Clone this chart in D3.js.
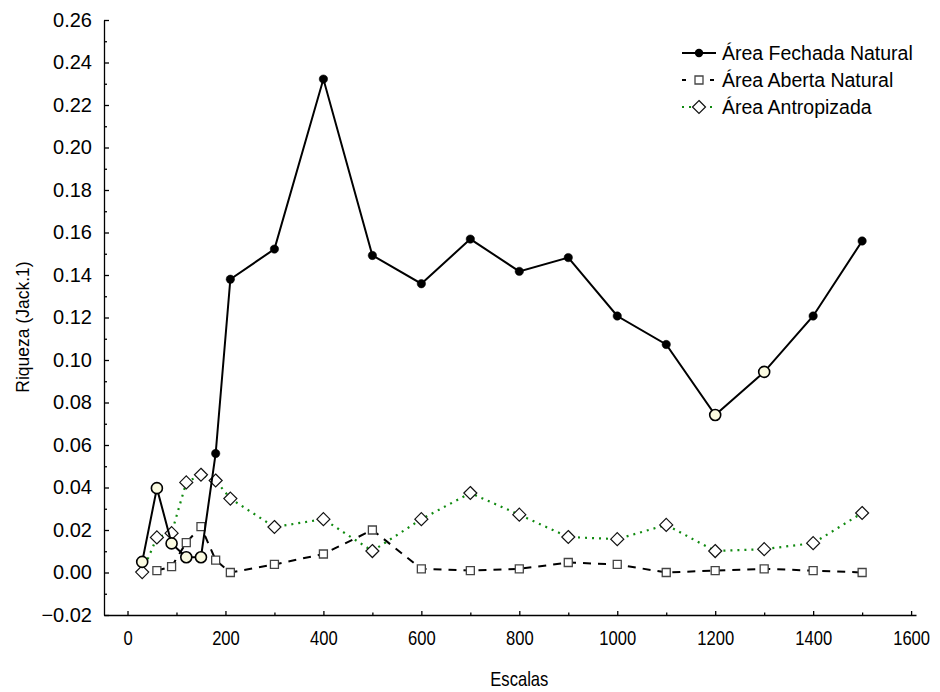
<!DOCTYPE html>
<html>
<head>
<meta charset="utf-8">
<script src="https://cdn.jsdelivr.net/npm/d3@7/dist/d3.min.js"></script>
<style>
  html, body { margin: 0; padding: 0; background: #fff; }
  svg { display: block; }
  .ylab text { font-family: "Liberation Sans", Arial, sans-serif; font-size: 20px; fill: #000; }
  .xlab text { font-family: "Liberation Sans", Arial, sans-serif; font-size: 20px; fill: #000; }
  .axis path, .axis line { stroke: #000; stroke-width: 1.3; }
</style>
</head>
<body>
<svg id="chart" width="940" height="692"></svg>
<script>
// Scales (x) at which richness was estimated
const escalas = [30, 60, 90, 120, 150, 180, 210, 300, 400, 500, 600, 700, 800, 900, 1000, 1100, 1200, 1300, 1400, 1500];

// Área Fechada Natural
const fechada = [0.005, 0.0397, 0.0137, 0.0072, 0.0072, 0.056, 0.138, 0.1522, 0.2322, 0.1492, 0.1359, 0.1569, 0.1417, 0.1482, 0.1207, 0.1073, 0.0741, 0.0944, 0.1207, 0.156];
// scales whose Fechada point is highlighted
const fechadaDestaque = [30, 60, 90, 120, 150, 1200, 1300];

// Área Aberta Natural (no value at scale 30)
const abertaEscalas = [60, 90, 120, 150, 180, 210, 300, 400, 500, 600, 700, 800, 900, 1000, 1100, 1200, 1300, 1400, 1500];
const aberta = [0.0009, 0.0028, 0.0141, 0.0216, 0.0058, 0.0, 0.0038, 0.0087, 0.02, 0.0017, 0.0009, 0.0017, 0.0047, 0.0038, 0.0, 0.0009, 0.0017, 0.0009, 0.0];

// Área Antropizada
const antropizada = [0.0002, 0.0165, 0.0185, 0.0424, 0.046, 0.0433, 0.0348, 0.0214, 0.0251, 0.0101, 0.0251, 0.0374, 0.0272, 0.0167, 0.0157, 0.0224, 0.0101, 0.011, 0.0138, 0.028];

// Axis ticks
const xTicks = [0, 200, 400, 600, 800, 1000, 1200, 1400, 1600];
const xMinor = [100, 300, 500, 700, 900, 1100, 1300, 1500];
const yTicks = [-0.02, 0.00, 0.02, 0.04, 0.06, 0.08, 0.10, 0.12, 0.14, 0.16, 0.18, 0.20, 0.22, 0.24, 0.26];
const yMinor = [-0.01, 0.01, 0.03, 0.05, 0.07, 0.09, 0.11, 0.13, 0.15, 0.17, 0.19, 0.21, 0.23, 0.25];

const legendNames = ["Área Fechada Natural", "Área Aberta Natural", "Área Antropizada"];

const svg = d3.select("#chart");
const font = "\"Liberation Sans\", Arial, sans-serif";
const narrow = 0.83; // horizontal squeeze of the x-axis lettering

const x = d3.scaleLinear().domain([-48, 1610]).range([104, 916]);
const y = d3.scaleLinear().domain([-0.02, 0.26]).range([615, 20]);

// ---- axes ----
const yAxis = d3.axisLeft(y).tickValues(yTicks).tickFormat(d3.format(".2f"))
  .tickSizeInner(-5).tickSizeOuter(0).tickPadding(12);
svg.append("g").attr("class", "axis ylab").attr("transform", "translate(104,0)").call(yAxis);
svg.append("g").attr("class", "axis").attr("transform", "translate(104,0)")
  .call(d3.axisLeft(y).tickValues(yMinor).tickFormat("").tickSizeInner(-3).tickSizeOuter(0))
  .select(".domain").remove();

const xAxis = d3.axisBottom(x).tickValues(xTicks).tickFormat(d3.format("d"))
  .tickSizeInner(-4).tickSizeOuter(0).tickPadding(16);
const gx = svg.append("g").attr("class", "axis xlab").attr("transform", "translate(0,615)").call(xAxis);
gx.selectAll(".tick text").attr("transform", `scale(${narrow},1)`);
svg.append("g").attr("class", "axis").attr("transform", "translate(0,615)")
  .call(d3.axisBottom(x).tickValues(xMinor).tickFormat("").tickSizeInner(-2.5).tickSizeOuter(0))
  .select(".domain").remove();
svg.selectAll(".axis text").attr("stroke", "none");

// axis titles
svg.append("g").attr("transform", `translate(${x(800)},686)`)
  .append("text")
  .attr("transform", `scale(${narrow},1)`)
  .attr("text-anchor", "middle")
  .style("font-family", font)
  .style("font-size", "20px")
  .text("Escalas");

svg.append("text")
  .attr("transform", "translate(29,327) rotate(-90)")
  .attr("text-anchor", "middle")
  .style("font-family", font)
  .style("font-size", "17.5px")
  .text("Riqueza (Jack.1)");

// ---- series ----
const line = d3.line().x(d => x(d[0])).y(d => y(d[1]));

const abertaPts = abertaEscalas.map((s, i) => [s, aberta[i]]);
const antroPts = escalas.map((s, i) => [s, antropizada[i]]);
const fechadaPts = escalas.map((s, i) => [s, fechada[i]]);

const sqSym = d3.symbol().type(d3.symbolSquare).size(64);
const diaPath = "M0,-6.5L6.5,0L0,6.5L-6.5,0Z";

// Área Aberta Natural: dashed black, open squares
svg.append("path").datum(abertaPts)
  .attr("d", line).attr("fill", "none")
  .attr("stroke", "#000").attr("stroke-width", 2)
  .attr("stroke-dasharray", "8,7");
svg.append("g").selectAll("path").data(abertaPts).join("path")
  .attr("transform", d => `translate(${x(d[0])},${y(d[1])})`)
  .attr("d", sqSym)
  .attr("fill", "#fff").attr("stroke", "#444").attr("stroke-width", 1.3);

// Área Antropizada: green dotted, open diamonds
svg.append("path").datum(antroPts)
  .attr("d", line).attr("fill", "none")
  .attr("stroke", "#108a10").attr("stroke-width", 2.2)
  .attr("stroke-dasharray", "2,5");
svg.append("g").selectAll("path").data(antroPts).join("path")
  .attr("transform", d => `translate(${x(d[0])},${y(d[1])})`)
  .attr("d", diaPath)
  .attr("fill", "#fff").attr("stroke", "#111").attr("stroke-width", 1.2);

// Área Fechada Natural: solid black, filled circles
svg.append("path").datum(fechadaPts)
  .attr("d", line).attr("fill", "none")
  .attr("stroke", "#000").attr("stroke-width", 2);
svg.append("g").selectAll("circle").data(fechadaPts).join("circle")
  .attr("cx", d => x(d[0])).attr("cy", d => y(d[1]))
  .attr("r", d => fechadaDestaque.includes(d[0]) ? 5.5 : 4.2)
  .attr("fill", d => fechadaDestaque.includes(d[0]) ? "#fbfbe1" : "#000")
  .attr("stroke", "#000")
  .attr("stroke-width", d => fechadaDestaque.includes(d[0]) ? 1.6 : 0.5);

// ---- legend ----
const leg = svg.append("g").attr("transform", "translate(682,53)");
const rowH = 27;

// row 1
leg.append("line").attr("x1", 0).attr("x2", 34).attr("y1", 0).attr("y2", 0)
  .attr("stroke", "#000").attr("stroke-width", 2);
leg.append("circle").attr("cx", 17).attr("cy", 0).attr("r", 4.2).attr("fill", "#000");
// row 2
leg.append("line").attr("x1", 0).attr("x2", 34).attr("y1", rowH).attr("y2", rowH)
  .attr("stroke", "#000").attr("stroke-width", 2).attr("stroke-dasharray", "4,10,6,8,4");
leg.append("path").attr("transform", `translate(17,${rowH})`).attr("d", sqSym)
  .attr("fill", "#fff").attr("stroke", "#444").attr("stroke-width", 1.3);
// row 3
leg.append("line").attr("x1", 0).attr("x2", 34).attr("y1", rowH * 2).attr("y2", rowH * 2)
  .attr("stroke", "#108a10").attr("stroke-width", 2.2).attr("stroke-dasharray", "2,5");
leg.append("path").attr("transform", `translate(17,${rowH * 2})`).attr("d", diaPath)
  .attr("fill", "#fff").attr("stroke", "#111").attr("stroke-width", 1.2);

leg.selectAll("text.name").data(legendNames).join("text")
  .attr("class", "name")
  .attr("x", 40).attr("y", (d, i) => i * rowH)
  .attr("dy", "0.36em")
  .style("font-family", font).style("font-size", "19.5px")
  .text(d => d);
</script>
</body>
</html>
